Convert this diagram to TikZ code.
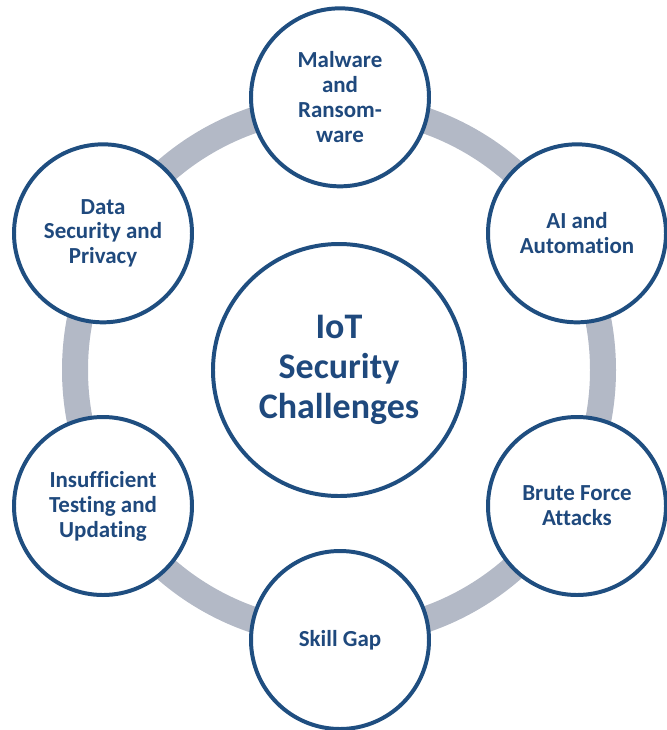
\documentclass[tikz,border=0pt]{standalone}
\usepackage{fontspec}
\setmainfont{Carlito}[Ligatures=NoCommon]

\definecolor{ringblue}{HTML}{1F4E80}
\definecolor{textblue}{HTML}{1F497D}
\definecolor{ringgray}{HTML}{B3B9C6}

\begin{document}
\begin{tikzpicture}[
        spoke/.style={
            draw=ringblue,
            fill=white,
            circle,
            line width=3.4pt,
            minimum size=5.34cm,
            inner sep=0pt,
            align=center,
            text=textblue,
            font=\fontsize{19.6pt}{21.3pt}\selectfont\bfseries
        },
        hubnode/.style={
            spoke,
            minimum size=7.56cm,
            font=\fontsize{30.7pt}{34.1pt}\selectfont\bfseries
        },
        ring/.style={
            draw=ringgray,
            line width=0.78cm
        }
    ]
        \useasboundingbox (0,0) rectangle (20.01,-21.9);

        \coordinate (centre) at (10.17,-11.1);
        \draw[ring] (centre) circle (7.92);

        \node[hubnode] (hub) at (centre)
            {IoT\\Security\\Challenges};
        \node[spoke] (malware) at (10.2,-2.92)
            {Malware\\and\\Ransom-\\ware};
        \node[spoke] (ai) at (17.31,-7.0)
            {AI and\\Automation};
        \node[spoke] (brute) at (17.31,-15.18)
            {Brute Force\\Attacks};
        \node[spoke] (skill) at (10.2,-19.2)
            {Skill Gap};
        \node[spoke] (testing) at (3.09,-15.18)
            {Insufficient\\Testing and\\Updating};
        \node[spoke] (privacy) at (3.09,-7.0)
            {Data\\Security and\\Privacy};
    \end{tikzpicture}
\end{document}
